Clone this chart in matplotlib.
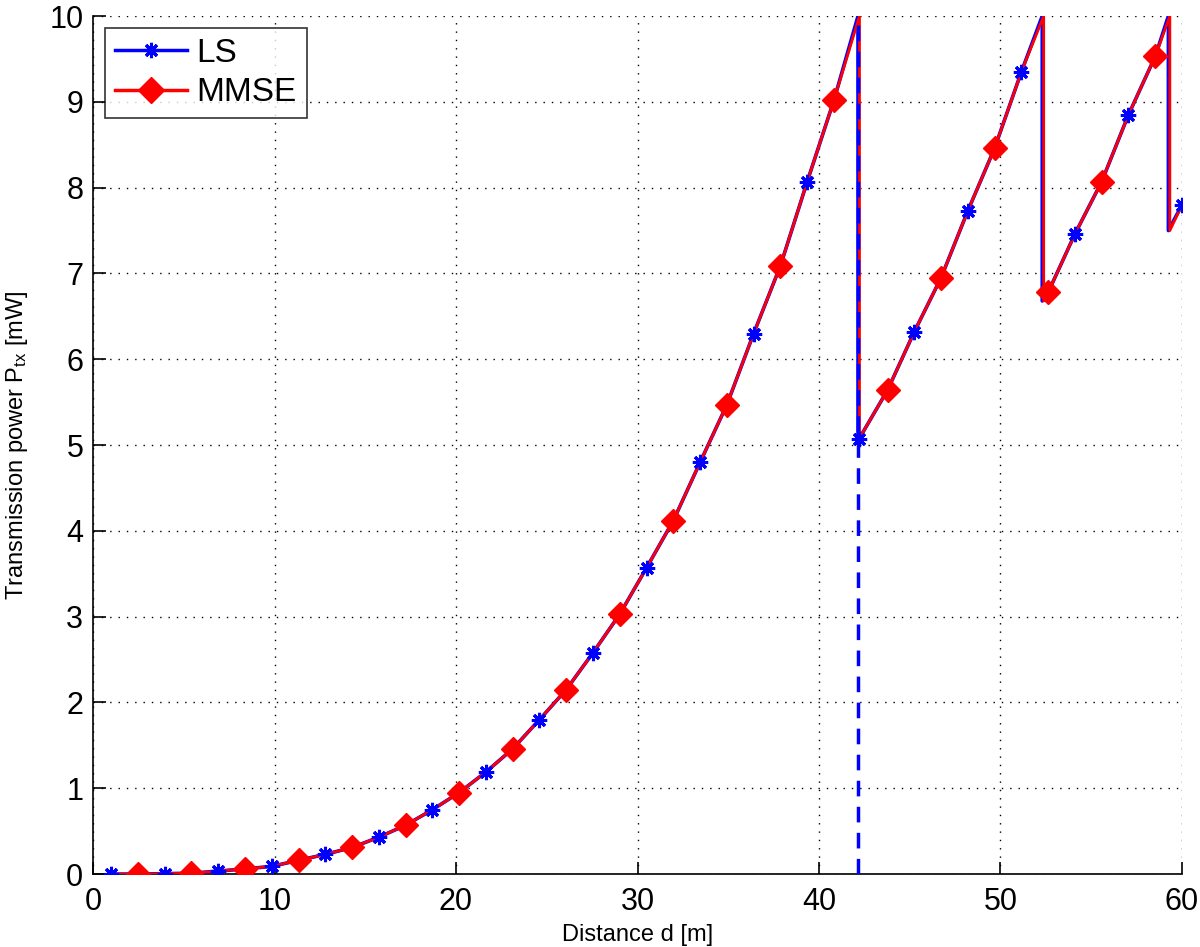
import numpy as np
import matplotlib
matplotlib.use("Agg")
import matplotlib.pyplot as plt

plt.rcParams['font.family'] = ['Liberation Sans', 'DejaVu Sans']
plt.rcParams['mathtext.fontset'] = 'custom'
plt.rcParams['mathtext.rm'] = 'Liberation Sans'
plt.rcParams['mathtext.it'] = 'Liberation Sans'

# Marker samples
d_ls = [1.0, 3.95, 6.9, 9.85, 12.8, 15.75, 18.7, 21.65, 24.6, 27.55, 30.5,
        33.45, 36.4, 39.35, 42.2, 45.25, 48.2, 51.15, 54.1, 57.05, 60.0]
p_ls = [0.0, 0.005, 0.035, 0.09, 0.23, 0.43, 0.75, 1.19, 1.80, 2.58, 3.57,
        4.80, 6.30, 8.07, 5.07, 6.32, 7.73, 9.35, 7.46, 8.85, 7.80]

d_mmse = [2.475, 5.425, 8.375, 11.325, 14.275, 17.225, 20.175, 23.125, 26.075,
          29.025, 31.975, 34.925, 37.875, 40.825, 43.775, 46.725, 49.675,
          52.625, 55.575, 58.525]
p_mmse = [0.0, 0.01, 0.06, 0.16, 0.31, 0.57, 0.95, 1.46, 2.15, 3.03, 4.12,
          5.47, 7.09, 9.02, 5.64, 6.95, 8.46, 6.78, 8.07, 9.53]

# Power-reset points (jump positions, value before and after jump)
d_jump = [42.15, 52.3, 59.25]
p_jump_top = [10.0, 10.0, 10.0]
p_jump_bottom = [5.05, 6.68, 7.50]

# Dashed marker line
d_dash = 42.15
p_dash = [0.0, 10.0]


def build_curve(dx_offset=0.0):
    pts = list(zip(d_ls, p_ls)) + list(zip(d_mmse, p_mmse))
    pts.sort(key=lambda t: t[0])
    xs, ys = [], []
    j = 0
    for x, y in pts:
        while j < len(d_jump) and x > d_jump[j]:
            xs += [d_jump[j] + dx_offset, d_jump[j] + dx_offset]
            ys += [p_jump_top[j], p_jump_bottom[j]]
            j += 1
        xs.append(x)
        ys.append(y)
    while j < len(d_jump):
        xs += [d_jump[j] + dx_offset, d_jump[j] + dx_offset]
        ys += [p_jump_top[j], p_jump_bottom[j]]
        j += 1
    return xs, ys


fig = plt.figure(figsize=(12, 9.47), dpi=100)
ax = fig.add_axes([0.0775, 0.077, 0.9075, 0.906])

xl, yl = build_curve(0.0)
xm, ym = build_curve(0.08)

ax.plot(xl, yl, color='#0000ff', lw=2.6, zorder=3)
ax.plot(xm, ym, color='#ff0000', lw=2.0, zorder=4)
ax.plot([d_dash, d_dash], p_dash, color='#0000ff', lw=2.5,
        linestyle=(0, (4.5, 3)), zorder=5)

ax.plot(d_ls, p_ls, linestyle='none', marker=(8, 2, 0), markersize=11,
        markeredgewidth=2.2, color='#0000ff', zorder=6)
ax.plot(d_mmse, p_mmse, linestyle='none', marker='D', markersize=12.5,
        color='#ff0000', markeredgecolor='#ff0000', zorder=6)

# Legend proxies
ax.plot([], [], color='#0000ff', lw=2.5, marker=(8, 2, 0), markersize=11,
        markeredgewidth=2.2, label='LS')
ax.plot([], [], color='#ff0000', lw=2.5, marker='D', markersize=13,
        label='MMSE')

ax.set_xlim(0, 60)
ax.set_ylim(0, 10)
ax.set_xticks(np.arange(0, 61, 10))
ax.set_yticks(np.arange(0, 11, 1))
ax.tick_params(direction='in', length=9, width=1.2, labelsize=22,
               top=False, right=False)
ax.tick_params(axis='x', pad=9)
ax.tick_params(axis='y', pad=7)
ax.grid(True, linestyle=(0, (1, 5)), color='black', linewidth=1.0)
for s in ['top', 'right']:
    ax.spines[s].set_visible(False)
for s in ['left', 'bottom']:
    ax.spines[s].set_linewidth(1.2)

ax.set_xlabel('Distance d [m]', fontsize=17)
ax.set_ylabel(r'Transmission power P$_{\mathrm{tx}}$ [mW]', fontsize=17)
ax.xaxis.set_label_coords(0.5, -0.058)
ax.yaxis.set_label_coords(-0.058, 0.5)

leg = ax.legend(loc='upper left', fontsize=24, frameon=True, fancybox=False,
                edgecolor='black', handlelength=2.15, borderpad=0.3,
                labelspacing=0.25, handletextpad=0.3, borderaxespad=0.0,
                bbox_to_anchor=(0.011, 0.986))
leg.get_frame().set_linewidth(1.2)

fig.savefig('out.png', dpi=100)
